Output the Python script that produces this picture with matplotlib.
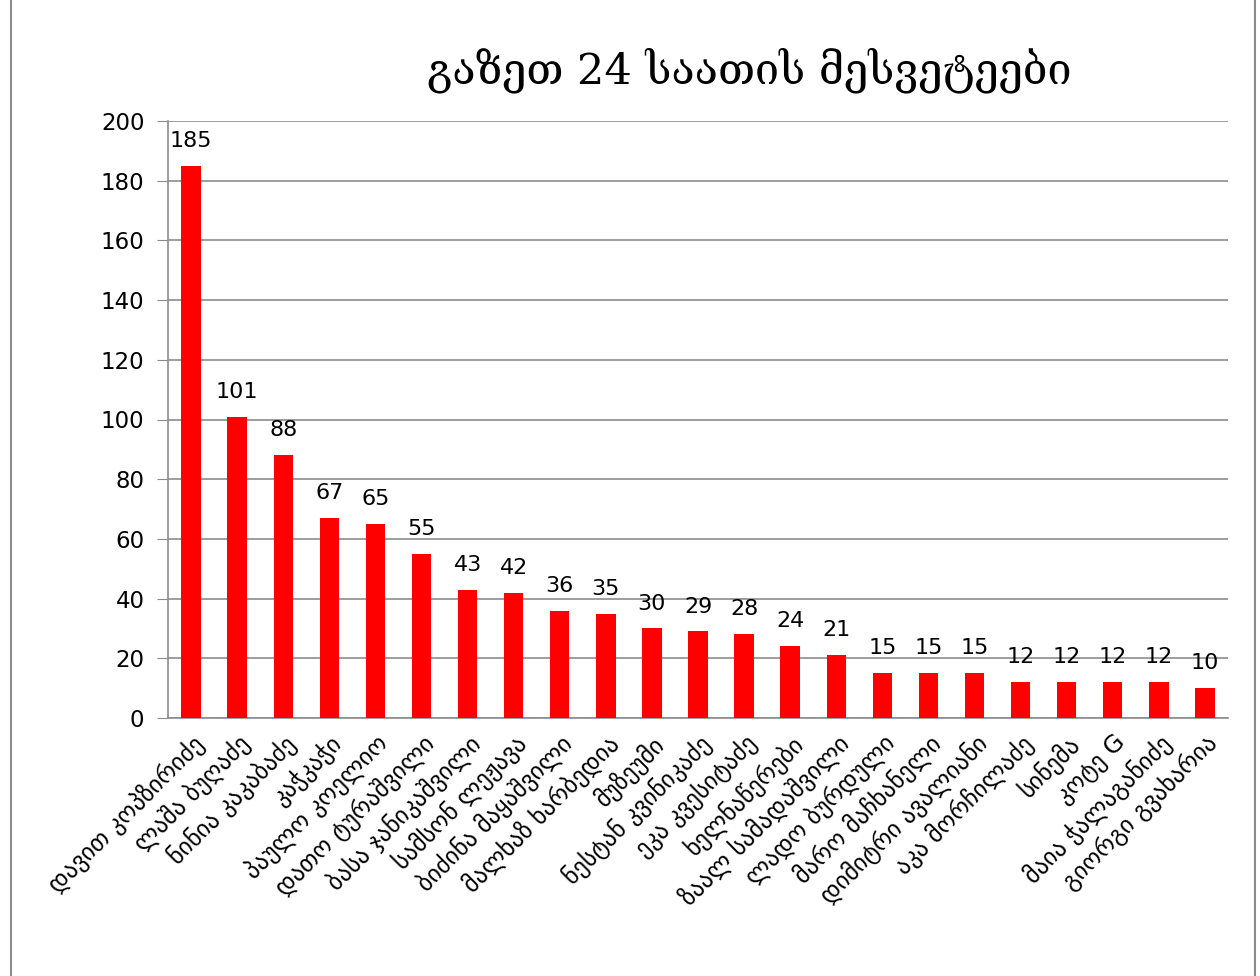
import numpy as np
import matplotlib.pyplot as plt
from matplotlib.patches import Rectangle

plt.rcParams['font.family'] = ['DejaVu Sans']

# data
names = ['დავით კოპზირიძე', 'ლაშა ბუღაძე', 'ნინია კაკაბაძე', 'კაჭკაჭი',
         'პაულო კოელიო', 'დათო ტურაშვილი', 'ბასა ჯანიკაშვილი', 'სამსონ ლეჟავა',
         'ბიძინა მაყაშვილი', 'მალხაზ ხარბედია', 'მუზეუმი', 'ნესტან კვინიკაძე',
         'ეკა კვესიტაძე', 'ხელნაწერები', 'ზაალ სამადაშვილი', 'ლადო ბურდული',
         'მარო მაჩხანელი', 'დიმიტრი ავალიანი', 'აკა მორჩილაძე', 'სინემა',
         'კოტე G', 'მაია ჭალაგანიძე', 'გიორგი გვახარია']
values = [185, 101, 88, 67, 65, 55, 43, 42, 36, 35, 30, 29, 28, 24, 21,
          15, 15, 15, 12, 12, 12, 12, 10]
title = 'გაზეთ 24 საათის მესვეტეები'

fig = plt.figure(figsize=(12.6, 9.76), dpi=100)
ax = fig.add_axes([168 / 1260, 1 - 718 / 976, 1060 / 1260, 597 / 976])

x = np.arange(len(names))
bars = ax.bar(x, values, width=0.42, color='#ff0000', zorder=3)

ax.set_xlim(-0.5, len(names) - 0.5)
ax.set_ylim(0, 200)
ax.set_yticks(np.arange(0, 201, 20))
ax.grid(axis='y', color='#8c8c8c', linewidth=1.2, zorder=0)

for s in ['top', 'right']:
    ax.spines[s].set_visible(False)
for s in ['left', 'bottom']:
    ax.spines[s].set_color('#8c8c8c')
    ax.spines[s].set_linewidth(1.2)

ax.tick_params(axis='y', length=8, color='#8c8c8c', labelsize=16.5, pad=9)
ax.tick_params(axis='x', length=0, pad=9)
ax.set_xticks(x)
ax.set_xticklabels(names, rotation=45, ha='right', rotation_mode='anchor',
                   fontsize=17.5)

for xi, v in zip(x, values):
    ax.text(xi, v + 5, str(v), ha='center', va='bottom', fontsize=16)

fig.text(0.595, 0.928, title, ha='center', va='center', fontsize=31,
         family=['DejaVu Serif', 'DejaVu Sans'])

# chart border
fig.add_artist(Rectangle((0.009, -0.01), 0.987, 1.02, transform=fig.transFigure,
                         fill=False, edgecolor='#8c8c8c', linewidth=1.5))

fig.savefig('out.png', dpi=100)
